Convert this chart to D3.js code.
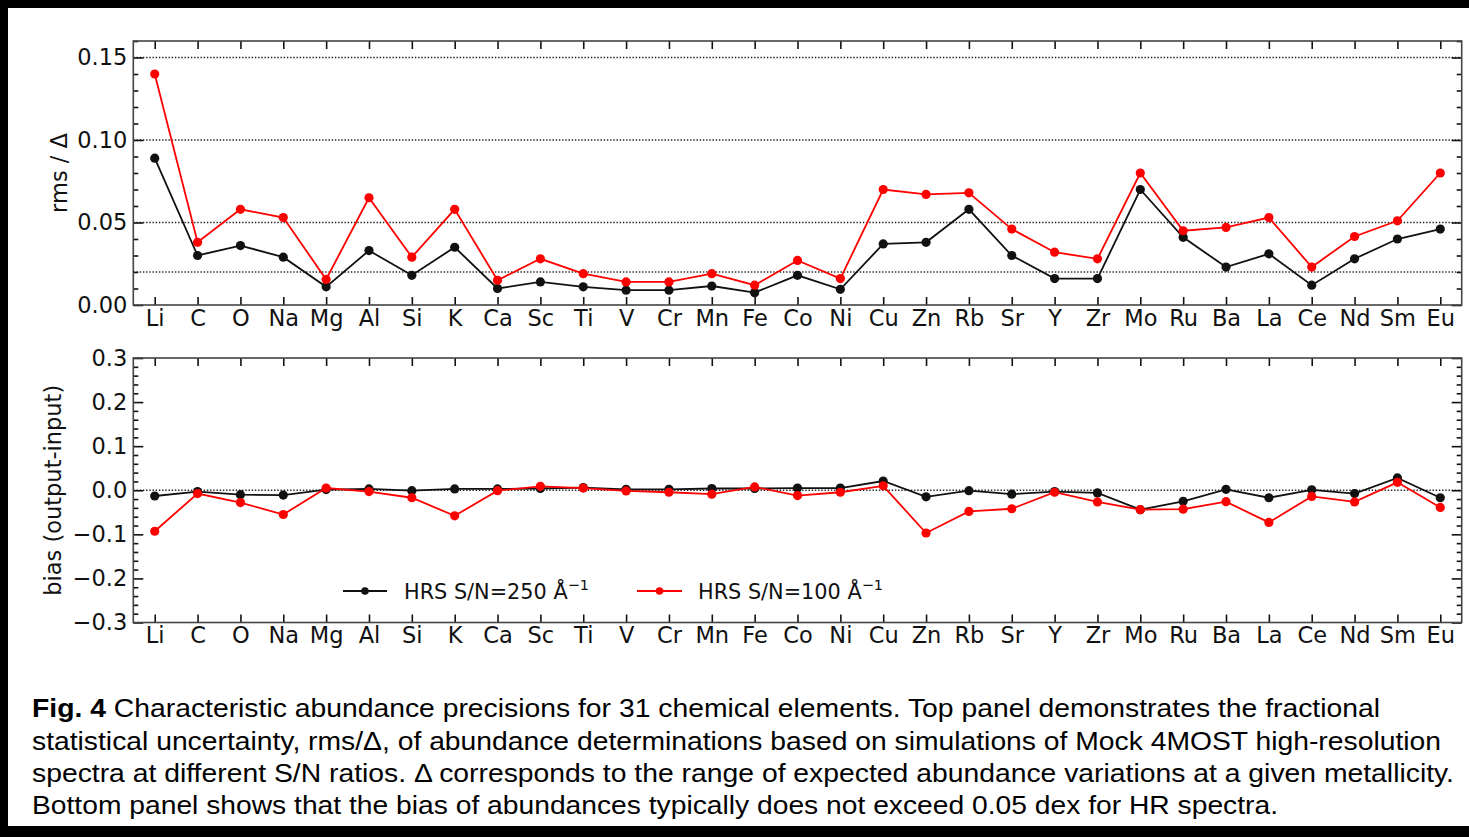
<!DOCTYPE html>
<html><head><meta charset="utf-8">
<script src="https://cdn.jsdelivr.net/npm/d3@7"></script>
<style>
body{margin:0;background:#fff}
svg{display:block}
.tick text{font-family:"DejaVu Sans",sans-serif;fill:#111}
</style>
</head><body>
<svg id="fig" width="1469" height="837"></svg>
<script>
// Element order along the x axis
const elements = ["Li","C","O","Na","Mg","Al","Si","K","Ca","Sc","Ti","V","Cr","Mn","Fe","Co","Ni","Cu","Zn","Rb","Sr","Y","Zr","Mo","Ru","Ba","La","Ce","Nd","Sm","Eu"];

// rms / Delta for the two signal-to-noise ratios
const rms250 = [0.089,0.030,0.036,0.029,0.011,0.033,0.018,0.035,0.010,0.014,0.011,0.009,0.009,0.0115,0.0075,0.018,0.0095,0.037,0.038,0.058,0.030,0.016,0.016,0.070,0.041,0.023,0.031,0.012,0.028,0.040,0.046];
const rms100 = [0.140,0.038,0.058,0.053,0.0155,0.065,0.029,0.058,0.015,0.028,0.019,0.014,0.014,0.019,0.012,0.027,0.016,0.070,0.067,0.068,0.046,0.032,0.028,0.080,0.045,0.047,0.053,0.023,0.0415,0.051,0.080];

// bias (output - input)
const bias250 = [-0.013,-0.003,-0.010,-0.011,0.0015,0.003,-0.001,0.003,0.003,0.004,0.006,0.002,0.002,0.004,0.004,0.005,0.005,0.021,-0.015,-0.001,-0.009,-0.003,-0.006,-0.044,-0.025,0.002,-0.017,0.001,-0.0075,0.028,-0.017];
const bias100 = [-0.093,-0.0075,-0.028,-0.055,0.005,-0.003,-0.017,-0.058,-0.001,0.009,0.005,-0.0015,-0.0045,-0.009,0.0075,-0.012,-0.0045,0.010,-0.097,-0.048,-0.042,-0.0045,-0.0265,-0.044,-0.043,-0.026,-0.073,-0.014,-0.0265,0.018,-0.039];

// Axis ticks and reference lines
const rmsTicks = [0, 0.05, 0.10, 0.15];
const rmsTickLabels = ["0.00", "0.05", "0.10", "0.15"];
const rmsGuides = [0.02, 0.05, 0.10, 0.15];
const biasTicks = [-0.3, -0.2, -0.1, 0.0, 0.1, 0.2, 0.3];
const biasTickLabels = ["\u22120.3", "\u22120.2", "\u22120.1", "0.0", "0.1", "0.2", "0.3"];
const biasGuides = [0.0];

const seriesLabels = ["HRS S/N=250 \u00C5", "HRS S/N=100 \u00C5"];
const seriesColors = ["#111111", "#ff0000"];

const captionBold = "Fig. 4";
const captionLines = [
  " Characteristic abundance precisions for 31 chemical elements. Top panel demonstrates the fractional",
  "statistical uncertainty, rms/\u0394, of abundance determinations based on simulations of Mock 4MOST high-resolution",
  "spectra at different S/N ratios. \u0394 corresponds to the range of expected abundance variations at a given metallicity.",
  "Bottom panel shows that the bias of abundances typically does not exceed 0.05 dex for HR spectra."
];
const captionWidths = [1348, 1409, 1422, 1246];

const svg = d3.select("#fig");
const W = 1469, H = 837;
svg.append("rect").attr("width", W).attr("height", H).attr("fill", "#fff");

const left = 133.3, right = 1461.7;
const x = d3.scaleLinear().domain([-0.5, elements.length - 0.5]).range([left, right]);

function panel(cfg) {
  const y = d3.scaleLinear().domain(cfg.domain).range([cfg.bottom, cfg.top]);
  const g = svg.append("g");

  // dotted reference lines
  g.selectAll("line.guide").data(cfg.guides).join("line")
    .attr("x1", left).attr("x2", right)
    .attr("y1", d => y(d)).attr("y2", d => y(d))
    .attr("stroke", "#222").attr("stroke-width", 1.4)
    .attr("stroke-dasharray", "1.4,1.8");

  // minor y ticks (left and right)
  const minorL = d3.axisLeft(y).tickValues(cfg.minor).tickFormat("").tickSizeInner(-5).tickSizeOuter(0);
  const minorR = d3.axisRight(y).tickValues(cfg.minor).tickFormat("").tickSizeInner(-5).tickSizeOuter(0);
  g.append("g").attr("transform", `translate(${left},0)`).call(minorL);
  g.append("g").attr("transform", `translate(${right},0)`).call(minorR);

  // major y ticks
  const yL = d3.axisLeft(y).tickValues(cfg.ticks)
    .tickFormat((d, i) => cfg.tickLabels[i]).tickSizeInner(-10).tickSizeOuter(0).tickPadding(6);
  const yR = d3.axisRight(y).tickValues(cfg.ticks).tickFormat("").tickSizeInner(-10).tickSizeOuter(0);
  g.append("g").attr("transform", `translate(${left},0)`).call(yL)
    .selectAll("text").attr("font-size", 22.5);
  g.append("g").attr("transform", `translate(${right},0)`).call(yR);

  // x ticks (bottom with labels, top without)
  const xB = d3.axisBottom(x).tickValues(d3.range(elements.length))
    .tickFormat(i => elements[i]).tickSizeInner(-8).tickSizeOuter(0).tickPadding(5);
  const xT = d3.axisTop(x).tickValues(d3.range(elements.length))
    .tickFormat("").tickSizeInner(-8).tickSizeOuter(0);
  g.append("g").attr("transform", `translate(0,${cfg.bottom})`).call(xB)
    .selectAll("text").attr("font-size", 22.5);
  g.append("g").attr("transform", `translate(0,${cfg.top})`).call(xT);

  g.selectAll(".domain").remove();
  g.selectAll(".tick line").attr("stroke", "#111").attr("stroke-width", 1.6);

  // frame
  g.append("rect").attr("x", left).attr("y", cfg.top)
    .attr("width", right - left).attr("height", cfg.bottom - cfg.top)
    .attr("fill", "none").attr("stroke", "#444").attr("stroke-width", 1.6);

  // data series
  const line = d3.line().x((d, i) => x(i)).y(d => y(d));
  cfg.series.forEach((vals, k) => {
    g.append("path").datum(vals).attr("d", line)
      .attr("fill", "none").attr("stroke", seriesColors[k]).attr("stroke-width", 1.8);
    g.selectAll(null).data(vals).join("circle")
      .attr("cx", (d, i) => x(i)).attr("cy", d => y(d)).attr("r", 4.6)
      .attr("fill", seriesColors[k]);
  });

  // axis title
  g.append("text")
    .attr("transform", `translate(${cfg.labelX},${(cfg.top + cfg.bottom) / 2}) rotate(-90)`)
    .attr("text-anchor", "middle")
    .attr("font-family", "DejaVu Sans, sans-serif").attr("font-size", 22.5).attr("fill", "#111")
    .text(cfg.label);
  return { g, y };
}

panel({
  domain: [0, 0.16], top: 41, bottom: 305,
  ticks: rmsTicks, tickLabels: rmsTickLabels, guides: rmsGuides,
  minor: d3.range(0, 0.1601, 0.01).filter(v => Math.abs(v * 20 - Math.round(v * 20)) > 1e-6),
  series: [rms250, rms100], label: "rms / \u0394", labelX: 67
});

panel({
  domain: [-0.3, 0.3], top: 358, bottom: 622.5,
  ticks: biasTicks, tickLabels: biasTickLabels, guides: biasGuides,
  minor: d3.range(-0.3, 0.3001, 0.02).filter(v => Math.abs(v * 10 - Math.round(v * 10)) > 1e-6),
  series: [bias250, bias100], label: "bias (output-input)", labelX: 61
});

// legend
const legendItems = [
  { x0: 343, x1: 387, tx: 404 },
  { x0: 637, x1: 682, tx: 698 }
];
const ly = 591;
legendItems.forEach((it, k) => {
  const lg = svg.append("g");
  lg.append("line").attr("x1", it.x0).attr("x2", it.x1).attr("y1", ly).attr("y2", ly)
    .attr("stroke", seriesColors[k]).attr("stroke-width", 1.8);
  lg.append("circle").attr("cx", (it.x0 + it.x1) / 2).attr("cy", ly).attr("r", 3.8)
    .attr("fill", seriesColors[k]);
  const t = lg.append("text").attr("x", it.tx).attr("y", ly + 8)
    .attr("font-family", "DejaVu Sans, sans-serif").attr("font-size", 20.8).attr("fill", "#111");
  t.append("tspan").text(seriesLabels[k]);
  t.append("tspan").attr("dy", -9).attr("font-size", 14.5).text("\u22121");
});

// caption
const baselines = [717, 750, 782, 814];
const cap = svg.append("g").attr("font-family", "Liberation Sans, Arial, sans-serif")
  .attr("font-size", 26.5).attr("fill", "#000");
captionLines.forEach((s, i) => {
  const t = cap.append("text").attr("x", 32).attr("y", baselines[i])
    .attr("textLength", captionWidths[i]).attr("lengthAdjust", "spacingAndGlyphs");
  if (i === 0) t.append("tspan").attr("font-weight", "bold").text(captionBold);
  t.append("tspan").text(s);
});

// dark frame strips
svg.append("rect").attr("x", 0).attr("y", 0).attr("width", W).attr("height", 8).attr("fill", "#000");
svg.append("rect").attr("x", 0).attr("y", 0).attr("width", 8).attr("height", H).attr("fill", "#000");
svg.append("rect").attr("x", 0).attr("y", 826).attr("width", W).attr("height", H - 826).attr("fill", "#000");
</script>
</body></html>
